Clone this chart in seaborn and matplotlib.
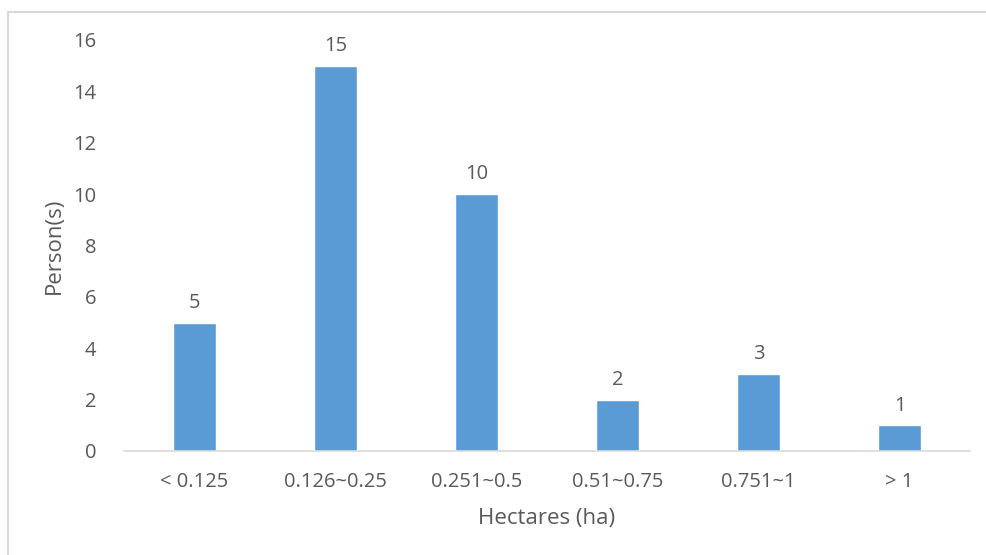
import matplotlib
matplotlib.use("Agg")
import matplotlib.pyplot as plt
from matplotlib.patches import Rectangle
import seaborn as sns
import pandas as pd

# dati
categories = ["< 0.125", "0.126~0.25", "0.251~0.5", "0.51~0.75", "0.751~1", "> 1"]
persons = [5, 15, 10, 2, 3, 1]
y_ticks = [0, 2, 4, 6, 8, 10, 12, 14, 16]

sns.set_theme(style="white")
plt.rcParams["font.family"] = ["Open Sans", "DejaVu Sans"]

text_col = "#595959"
bar_col = "#5B9BD5"

df = pd.DataFrame({"Hectares": categories, "Persons": persons})

fig = plt.figure(figsize=(9.86, 5.55), dpi=100)
ax = fig.add_axes([0.1258, 0.1874, 0.858, 0.7406])

sns.barplot(data=df, x="Hectares", y="Persons", color=bar_col,
            width=0.31, saturation=1, ax=ax)

# etichette sopra le barre
for p in ax.patches:
    h = p.get_height()
    ax.annotate(f"{int(h)}", (p.get_x() + p.get_width() / 2, h),
                xytext=(0, 7), textcoords="offset points",
                ha="center", va="bottom", fontsize=14.5, color=text_col)

ax.set_ylim(0, 16)
ax.set_xlim(-0.5, len(categories) - 0.5)
ax.set_yticks(y_ticks)
ax.tick_params(axis="both", length=0, labelsize=14.5, labelcolor=text_col)
ax.tick_params(axis="y", pad=20)
ax.tick_params(axis="x", pad=15)

for s in ["top", "right", "left"]:
    ax.spines[s].set_visible(False)
ax.spines["bottom"].set_color("#D9D9D9")
ax.spines["bottom"].set_linewidth(1.2)

ax.set_xlabel("Hectares (ha)", fontsize=16, color=text_col, labelpad=12)
ax.set_ylabel("Person(s)", fontsize=16, color=text_col, labelpad=6)

# bordo del grafico (stile Excel)
fig.patches.append(Rectangle((8 / 986, -0.05), 1.1, 1 - 12 / 555 + 0.05,
                             transform=fig.transFigure, fill=False,
                             edgecolor="#D9D9D9", linewidth=1.5))

fig.savefig("out.png", dpi=100)
plt.close(fig)
